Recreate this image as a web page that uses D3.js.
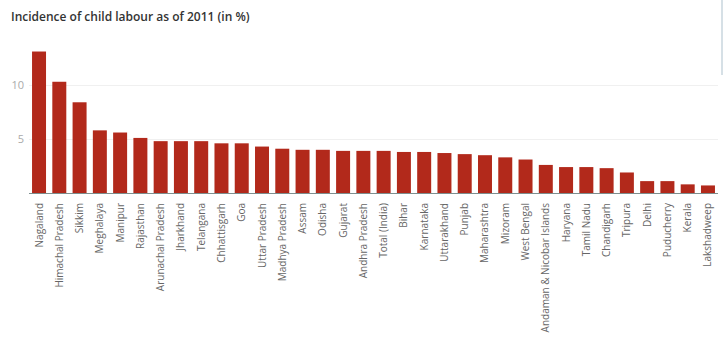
<!DOCTYPE html>
<html>
<head>
<meta charset="utf-8">
<script src="https://cdn.jsdelivr.net/npm/d3@7"></script>
<style>
  body { margin: 0; background: #fff; }
  svg { display: block; font-family: "Open Sans", sans-serif; }
</style>
</head>
<body>
<div id="chart"></div>
<script>
// ========================
// Data
// ========================
const states = [
    "Nagaland", "Himachal Pradesh", "Sikkim", "Meghalaya", "Manipur", "Rajasthan",
    "Arunachal Pradesh", "Jharkhand", "Telangana", "Chhattisgarh", "Goa",
    "Uttar Pradesh", "Madhya Pradesh", "Assam", "Odisha", "Gujarat", "Andhra Pradesh",
    "Total (India)", "Bihar", "Karnataka", "Uttarakhand", "Punjab", "Maharashtra",
    "Mizoram", "West Bengal", "Andaman & Nicobar Islands", "Haryana", "Tamil Nadu",
    "Chandigarh", "Tripura", "Delhi", "Puducherry", "Kerala", "Lakshadweep"
];
const incidence = [
    13.1, 10.3, 8.4, 5.8, 5.6, 5.1,
    4.8, 4.8, 4.8, 4.6, 4.6,
    4.3, 4.1, 4.0, 4.0, 3.9, 3.9,
    3.9, 3.8, 3.8, 3.7, 3.6, 3.5,
    3.3, 3.1, 2.6, 2.4, 2.4,
    2.3, 1.9, 1.1, 1.1, 0.8, 0.7
];
const yTicks = [5, 10];

const chartTitle = "Incidence of child labour as of 2011 (in %)";

// ========================
// Setup
// ========================
const width = 724, height = 339;
const margin = { left: 29, right: 6, top: 40, bottom: 146 };

const svg = d3.select("#chart").append("svg")
    .attr("width", width)
    .attr("height", height);

const x = d3.scaleBand()
    .domain(states)
    .range([margin.left, width - margin.right])
    .paddingInner(0.31)
    .paddingOuter(0.15);

const y = d3.scaleLinear()
    .domain([0, 14])
    .range([height - margin.bottom, height - margin.bottom - 14 * 10.8]);

// Title
svg.append("text")
    .attr("x", 11)
    .attr("y", 21)
    .attr("font-size", 12)
    .attr("font-weight", 600)
    .attr("fill", "#333")
    .text(chartTitle);

// faint right border line
svg.append("line")
    .attr("x1", 722).attr("x2", 722)
    .attr("y1", 0).attr("y2", 75)
    .attr("stroke", "#c9d6de")
    .attr("stroke-width", 1.5);

// Gridlines + tick labels
const grid = svg.append("g");
grid.selectAll("line")
    .data(yTicks)
    .enter().append("line")
    .attr("x1", margin.left)
    .attr("x2", width - margin.right)
    .attr("y1", d => Math.round(y(d)) + 0.5)
    .attr("y2", d => Math.round(y(d)) + 0.5)
    .attr("stroke", "#f0f0f0");

grid.selectAll("text")
    .data(yTicks)
    .enter().append("text")
    .attr("x", 24)
    .attr("y", d => y(d))
    .attr("dy", "0.35em")
    .attr("text-anchor", "end")
    .attr("font-size", 11)
    .attr("fill", "#aaa")
    .text(d => d);

// Bars
svg.append("g").selectAll("rect")
    .data(incidence)
    .enter().append("rect")
    .attr("x", (d, i) => x(states[i]))
    .attr("y", d => y(d))
    .attr("width", x.bandwidth())
    .attr("height", d => y(0) - y(d))
    .attr("fill", "#b2291b");

// Baseline
svg.append("line")
    .attr("x1", margin.left)
    .attr("x2", width - margin.right)
    .attr("y1", y(0) + 0.5)
    .attr("y2", y(0) + 0.5)
    .attr("stroke", "#7d8e8e")
    .attr("stroke-width", 1);

// Category labels
svg.append("g").selectAll("text")
    .data(states)
    .enter().append("text")
    .attr("transform", d => `translate(${x(d) + x.bandwidth() / 2},${y(0) + 10}) rotate(-90)`)
    .attr("dy", "0.35em")
    .attr("text-anchor", "end")
    .attr("font-size", 10)
    .attr("fill", "#666")
    .text(d => d);
</script>
</body>
</html>
